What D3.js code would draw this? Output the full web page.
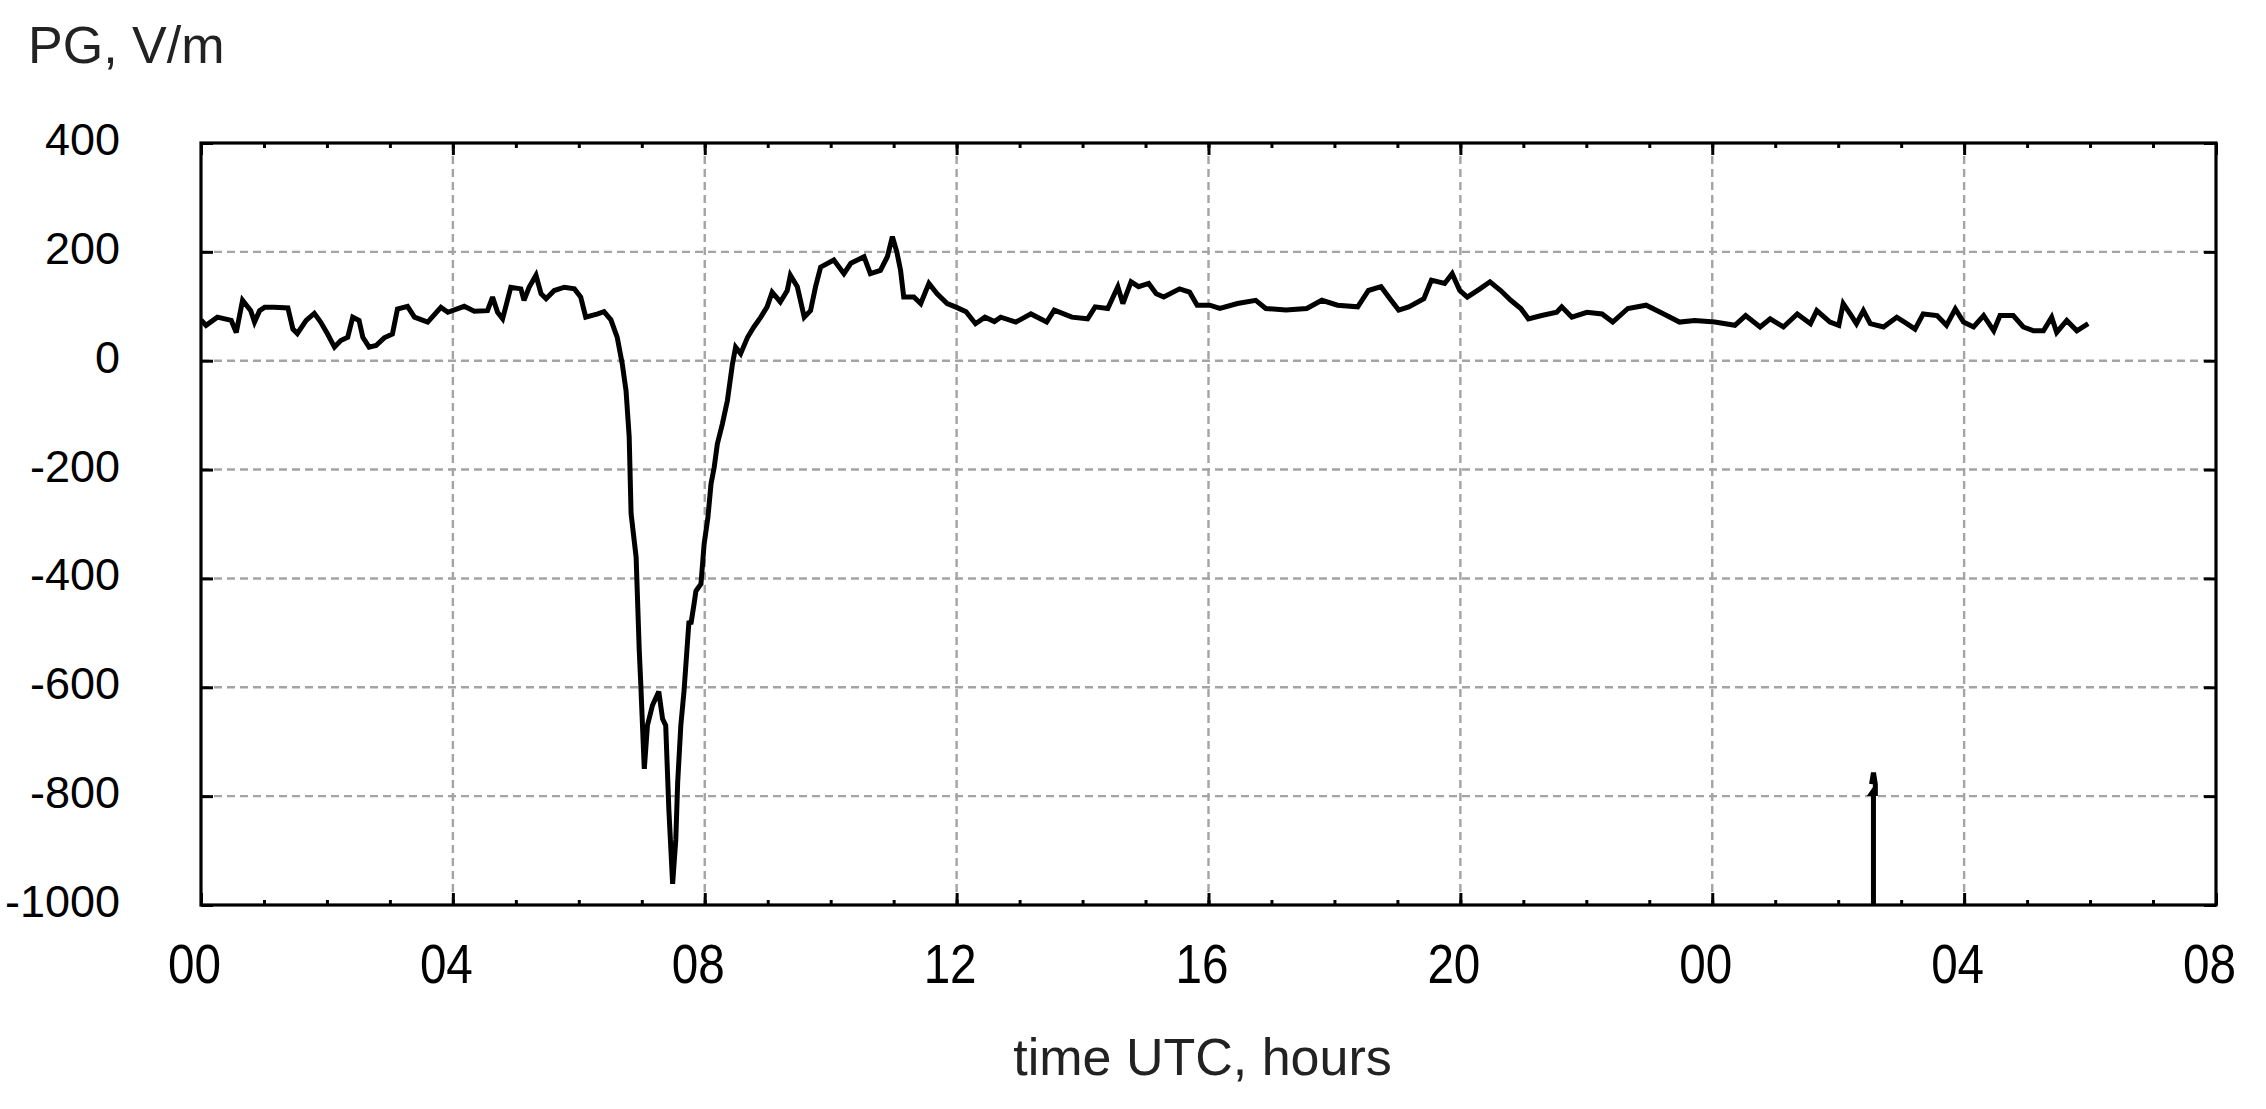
<!DOCTYPE html>
<html>
<head>
<meta charset="utf-8">
<script src="https://cdn.jsdelivr.net/npm/d3@7"></script>
<style>
  body { margin: 0; background: #fff; }
  text { font-family: "Liberation Sans", Arial, sans-serif; }
</style>
</head>
<body>
<svg id="chart" width="2266" height="1109"></svg>
<script>
// PG record, hours since 00 UTC of the first day
var hours = [0.00,0.08,0.26,0.48,0.56,0.66,0.79,0.85,0.93,1.01,1.16,1.38,1.46,1.53,1.67,1.80,1.90,2.01,2.12,2.22,
  2.33,2.41,2.51,2.57,2.67,2.78,2.91,3.04,3.12,3.28,3.39,3.60,3.81,3.92,4.18,4.34,4.55,4.63,4.71,4.79,
  4.92,5.08,5.13,5.21,5.32,5.40,5.48,5.61,5.77,5.93,6.03,6.11,6.30,6.40,6.51,6.61,6.69,6.75,6.80,6.83,
  6.91,6.96,6.98,7.04,7.09,7.17,7.27,7.33,7.38,7.43,7.49,7.54,7.57,7.62,7.67,7.75,7.78,7.83,7.86,7.94,
  7.99,8.05,8.10,8.15,8.20,8.28,8.36,8.44,8.49,8.57,8.68,8.78,8.89,8.99,9.07,9.20,9.31,9.36,9.47,9.58,
  9.68,9.76,9.84,10.05,10.21,10.32,10.53,10.63,10.79,10.90,10.98,11.05,11.11,11.16,11.32,11.43,11.56,11.69,11.85,12.00,
  12.15,12.30,12.45,12.60,12.70,12.94,13.18,13.43,13.55,13.83,14.08,14.20,14.40,14.56,14.64,14.77,14.89,15.05,15.17,15.29,
  15.54,15.70,15.82,16.02,16.18,16.46,16.75,16.91,17.23,17.56,17.80,18.05,18.37,18.54,18.74,18.90,19.02,19.18,19.42,19.54,
  19.75,19.87,19.99,20.11,20.31,20.47,20.64,20.80,20.96,21.08,21.29,21.53,21.61,21.77,22.01,22.25,22.42,22.66,22.95,23.23,
  23.48,23.72,24.04,24.36,24.53,24.76,24.92,25.13,25.35,25.56,25.66,25.87,26.01,26.08,26.19,26.29,26.40,26.51,26.72,26.93,
  27.09,27.22,27.35,27.57,27.72,27.86,27.99,28.15,28.31,28.47,28.57,28.78,28.94,29.10,29.26,29.39,29.47,29.63,29.79,29.97];
var pgValues = [75,65,80,74,52,111,92,71,92,98,98,97,58,50,74,87,71,49,25,37,
  43,80,74,43,25,28,42,49,95,100,80,71,98,89,100,91,92,117,89,77,
  135,132,111,135,157,123,114,129,135,132,117,80,86,90,75,43,-6,-55,-140,-281,
  -361,-533,-583,-750,-670,-633,-608,-658,-670,-825,-961,-880,-775,-670,-608,-478,-484,-447,-423,-410,
  -337,-288,-226,-196,-153,-116,-73,-6,25,13,43,62,80,99,126,108,129,157,136,80,
  92,136,172,185,160,179,191,160,166,191,228,200,166,117,117,105,142,123,105,98,
  90,68,80,72,80,71,86,71,93,80,77,99,96,136,105,145,136,142,123,117,
  132,126,102,102,96,105,111,96,93,96,111,102,99,129,136,111,93,99,114,148,
  142,160,129,117,132,145,129,111,96,77,83,89,99,80,89,86,71,96,102,86,
  71,74,71,65,83,62,77,62,86,68,92,71,65,105,86,68,92,68,62,80,
  68,58,86,83,65,95,71,62,83,55,83,83,62,55,55,80,52,74,55,68];

// short spike at about 02:34 on the second day
var spikeHours = [26.53, 26.56, 26.59, 26.59, 26.53, 26.56, 26.56];
var spikeValues = [-778, -757, -778, -795, -795, -790, -1100];

var xTicks = [0, 4, 8, 12, 16, 20, 24, 28, 32];
var xTickLabels = ["00", "04", "08", "12", "16", "20", "00", "04", "08"];
var yTicks = [400, 200, 0, -200, -400, -600, -800, -1000];

var plotLeft = 201, plotRight = 2216, plotTop = 143, plotBottom = 905;

var svg = d3.select("#chart");

var x = d3.scaleLinear().domain([0, 32]).range([plotLeft, plotRight]);
var y = d3.scaleLinear().domain([-1000, 400]).range([plotBottom, plotTop]);

svg.append("defs").append("clipPath").attr("id", "plotClip")
  .append("rect")
    .attr("x", plotLeft).attr("y", plotTop)
    .attr("width", plotRight - plotLeft).attr("height", plotBottom - plotTop);

// grid
var grid = svg.append("g").attr("class", "grid")
  .attr("stroke", "#a4a4a4")
  .attr("stroke-width", 2.4)
  .attr("stroke-dasharray", "8,5");

grid.selectAll("line.h")
  .data(yTicks.filter(function(d) { return d > -1000 && d < 400; }))
  .enter().append("line")
    .attr("class", "h")
    .attr("x1", plotLeft).attr("x2", plotRight)
    .attr("y1", function(d) { return y(d); })
    .attr("y2", function(d) { return y(d); });

grid.selectAll("line.v")
  .data(xTicks.filter(function(d) { return d > 0 && d < 32; }))
  .enter().append("line")
    .attr("class", "v")
    .attr("y1", plotTop).attr("y2", plotBottom)
    .attr("x1", function(d) { return x(d); })
    .attr("x2", function(d) { return x(d); });

// axes with inward ticks
var minorHours = d3.range(0, 33);

var xBottom = d3.axisBottom(x).tickValues(minorHours)
  .tickSize(-5).tickFormat("");
var xBottomMajor = d3.axisBottom(x).tickValues(xTicks)
  .tickSize(-12).tickFormat("");
var xTop = d3.axisTop(x).tickValues(minorHours)
  .tickSize(-5).tickFormat("");
var xTopMajor = d3.axisTop(x).tickValues(xTicks)
  .tickSize(-12).tickFormat("");
var yLeft = d3.axisLeft(y).tickValues(yTicks).tickSize(-12).tickFormat("");
var yRight = d3.axisRight(y).tickValues(yTicks).tickSize(-12).tickFormat("");

function drawAxis(gen, tx, ty) {
  var g = svg.append("g")
    .attr("transform", "translate(" + tx + "," + ty + ")")
    .call(gen);
  g.select(".domain").remove();
  g.selectAll(".tick line").attr("stroke", "#000").attr("stroke-width", 3);
  return g;
}
drawAxis(xBottom, 0, plotBottom);
drawAxis(xBottomMajor, 0, plotBottom);
drawAxis(xTop, 0, plotTop);
drawAxis(xTopMajor, 0, plotTop);
drawAxis(yLeft, plotLeft, 0);
drawAxis(yRight, plotRight, 0);

// data line
var line = d3.line()
  .x(function(d) { return x(d[0]); })
  .y(function(d) { return y(d[1]); });

var plot = svg.append("g").attr("clip-path", "url(#plotClip)");

plot.append("path")
  .datum(d3.zip(hours, pgValues))
  .attr("fill", "none")
  .attr("stroke", "#000")
  .attr("stroke-width", 5)
  .attr("stroke-linejoin", "miter")
  .attr("stroke-miterlimit", 3)
  .attr("d", line);

plot.append("path")
  .datum(d3.zip(spikeHours, spikeValues))
  .attr("fill", "none")
  .attr("stroke", "#000")
  .attr("stroke-width", 5)
  .attr("d", line);

// frame
svg.append("rect")
  .attr("x", plotLeft).attr("y", plotTop)
  .attr("width", plotRight - plotLeft).attr("height", plotBottom - plotTop)
  .attr("fill", "none")
  .attr("stroke", "#000")
  .attr("stroke-width", 3.2);

// tick labels
svg.selectAll("text.ylab")
  .data(yTicks)
  .enter().append("text")
    .attr("class", "ylab")
    .attr("x", 120)
    .attr("y", function(d) { return y(d) + 12; })
    .attr("text-anchor", "end")
    .attr("font-size", 45)
    .attr("fill", "#000")
    .text(function(d) { return d; });

svg.selectAll("text.xlab")
  .data(xTicks)
  .enter().append("text")
    .attr("class", "xlab")
    .attr("x", function(d) { return x(d) - 33; })
    .attr("y", 983)
    .attr("font-size", 55)
    .attr("textLength", 53)
    .attr("lengthAdjust", "spacingAndGlyphs")
    .attr("fill", "#000")
    .text(function(d, i) { return xTickLabels[i]; });

// axis titles
svg.append("text")
  .attr("x", 28).attr("y", 63)
  .attr("font-size", 52)
  .attr("fill", "#222")
  .text("PG, V/m");

svg.append("text")
  .attr("x", (plotLeft + plotRight) / 2 - 6).attr("y", 1075)
  .attr("text-anchor", "middle")
  .attr("font-size", 52)
  .attr("fill", "#222")
  .text("time UTC, hours");
</script>
</body>
</html>
